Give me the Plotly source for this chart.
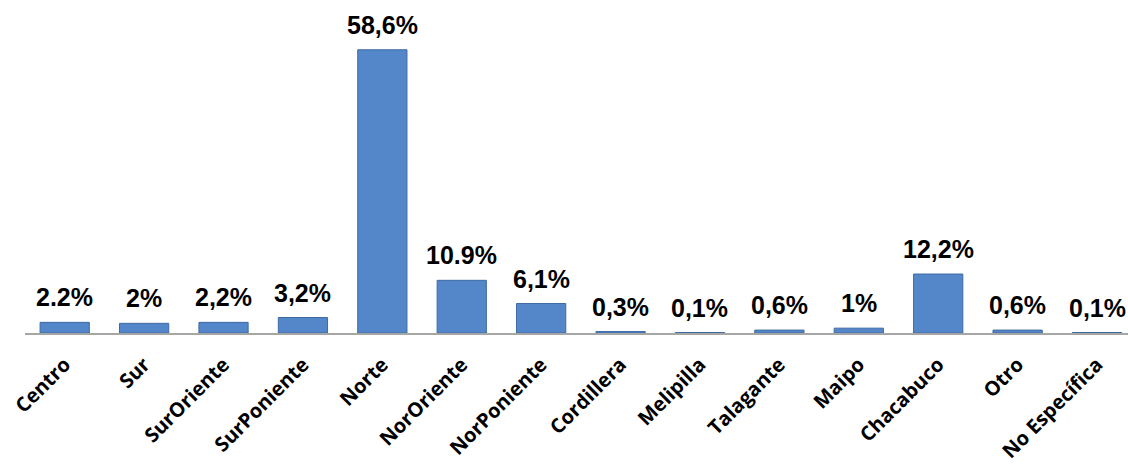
import plotly.graph_objects as go

categories = ["Centro", "Sur", "SurOriente", "SurPoniente", "Norte", "NorOriente",
              "NorPoniente", "Cordillera", "Melipilla", "Talagante", "Maipo",
              "Chacabuco", "Otro", "No Específica"]
values = [2.2, 2.0, 2.2, 3.2, 58.6, 10.9, 6.1, 0.3, 0.1, 0.6, 1.0, 12.2, 0.6, 0.1]
value_labels = ["2.2%", "2%", "2,2%", "3,2%", "58,6%", "10.9%", "6,1%", "0,3%",
                "0,1%", "0,6%", "1%", "12,2%", "0,6%", "0,1%"]

fig = go.Figure()
fig.add_trace(go.Bar(
    x=list(range(len(categories))),
    y=values,
    width=0.62,
    marker=dict(color="#5487C9", line=dict(color="#3D6AA3", width=1)),
    hoverinfo="skip",
))

for i, (v, lab) in enumerate(zip(values, value_labels)):
    fig.add_annotation(
        x=i, y=v, text="<b>" + lab + "</b>", showarrow=False,
        xanchor="center", yanchor="bottom", yshift=9,
        font=dict(family="Liberation Sans, Arial", size=25, color="#000000"),
    )

fig.update_layout(
    width=1128, height=468,
    margin=dict(l=25, r=0, t=0, b=135),
    paper_bgcolor="white", plot_bgcolor="white",
    showlegend=False,
    xaxis=dict(
        range=[-0.5, 13.39],
        tickmode="array",
        tickvals=list(range(len(categories))),
        ticktext=categories,
        tickangle=-45,
        tickfont=dict(family="Open Sans", size=20, color="#000000", weight="bold"),
        ticklabelstandoff=10,
        ticklabeloverflow="allow",
        automargin=False,
        showline=True, linecolor="#A6A6A6", linewidth=2,
        showgrid=False, zeroline=False, ticks="",
    ),
    yaxis=dict(
        range=[0, 68.9], visible=False, showgrid=False, zeroline=False,
        automargin=False,
    ),
)

fig.write_html("out.html")
